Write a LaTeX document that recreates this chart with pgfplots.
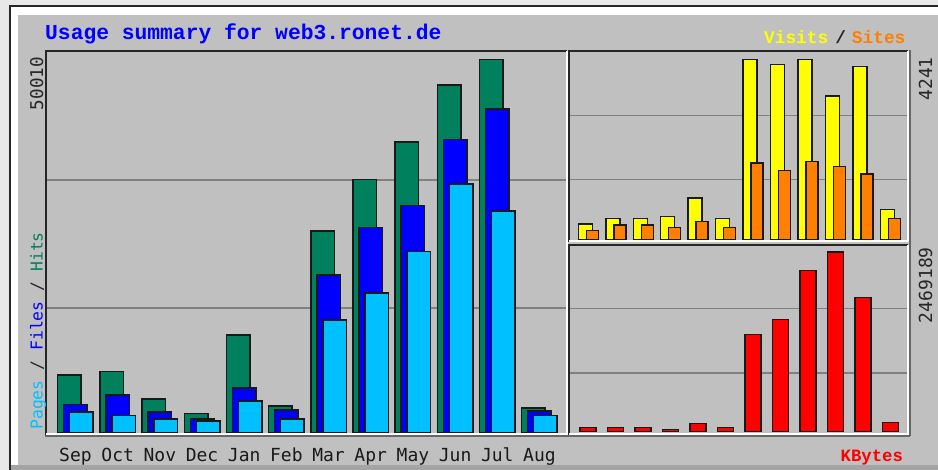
\documentclass[border=0pt]{standalone}
\usepackage{pgfplots}
\usepackage{pgfplotstable}
\pgfplotsset{compat=1.18}
\usepackage{fontspec}
\newfontfamily\lmono{Liberation Mono}
\newfontfamily\dmono{DejaVu Sans Mono}
\definecolor{outerbg}{HTML}{E8E8E8}
\definecolor{panel}{HTML}{C0C0C0}
\definecolor{bevel}{HTML}{A4A4A4}
\definecolor{gridc}{HTML}{808080}
\definecolor{hitsc}{HTML}{00805C}
\definecolor{filesc}{HTML}{0000FF}
\definecolor{pagesc}{HTML}{00C0FF}
\definecolor{visitsc}{HTML}{FFFF00}
\definecolor{sitesc}{HTML}{FF8000}
\definecolor{kbytesc}{HTML}{FF0000}

\pgfplotstableread{
idx hits files pages
0 7741 3777 2803
1 8182 5032 2309
2 4538 2803 1829
3 2576 1829 1562
4 13080 6006 4271
5 3564 3070 1829
6 27001 21128 15082
7 33901 27455 18686
8 38933 30431 24292
9 46581 39240 33327
10 50010 43378 29670
11 3297 2896 2309
}\mainT

\pgfplotstableread{
idx visits sites
0 369 212
1 494 336
2 494 336
3 541 282
4 972 424
5 494 282
6 4241 1795
7 4118 1624
8 4230 1835
9 3381 1718
10 4071 1537
11 706 494
}\visT

\pgfplotstableread{
idx kbytes
0 55000
1 55000
2 55000
3 30000
4 110000
5 55000
6 1338000
7 1539000
8 2218000
9 2469189
10 1841000
11 129000
}\kbT

\pgfplotsset{
  wstyle/.style={scale only axis, anchor=south west,
    axis line style={draw=none}, major tick length=0pt,
    ymajorgrids, major grid style={draw=gridc, line width=1.3pt},
    scaled ticks=false, yticklabel=\empty,
    ytick scale label code/.code={}, xtick scale label code/.code={}},
  wbar/.style={ybar, draw=black!90, line width=1.5pt},
}

\begin{document}
\begin{tikzpicture}[x=1pt,y=1pt]
\path[use as bounding box] (0,0) rectangle (938,470);
\fill[outerbg] (0,0) rectangle (938,470);
\fill[black!85] (9,0) rectangle (938,465);
\fill[white] (11,0) rectangle (938,463);
\fill[panel] (18,5) rectangle (938,455);
\fill[bevel] (11,0) rectangle (938,5);

% main panel
\begin{axis}[wstyle, at={(46pt,36pt)}, width=521pt, height=383pt,
  xmin=-0.5571, xmax=11.795, ymin=-174, ymax=51121,
  ytick={16701,33844},
  xtick={0,...,11},
  xticklabels={Sep,Oct,Nov,Dec,Jan,Feb,Mar,Apr,May,Jun,Jul,Aug},
  xticklabel style={anchor=base, inner sep=0pt, xshift=6pt, yshift=-27.5pt,
    font=\dmono\fontsize{18pt}{20pt}\selectfont, text=black!90},
]
\addplot[wbar, fill=hitsc, bar width=23.5pt, bar shift=0pt] table[x=idx,y=hits]{\mainT};
\addplot[wbar, fill=filesc, bar width=23.5pt, bar shift=6pt] table[x=idx,y=files]{\mainT};
\addplot[wbar, fill=pagesc, bar width=23.5pt, bar shift=12pt] table[x=idx,y=pages]{\mainT};
\end{axis}

% visits / sites panel
\begin{axis}[wstyle, at={(569pt,229pt)}, width=339pt, height=190pt,
  xmin=-0.593, xmax=11.743, ymin=-35, ymax=4436,
  ytick={1405,2918}, xtick=\empty]
\addplot[wbar, fill=visitsc, bar width=14pt, bar shift=0pt] table[x=idx,y=visits]{\visT};
\addplot[wbar, fill=sitesc, bar width=12pt, bar shift=7pt] table[x=idx,y=sites]{\visT};
\end{axis}

% kbytes panel
\begin{axis}[wstyle, at={(569pt,36pt)}, width=339pt, height=189pt,
  xmin=-0.691, xmax=11.645, ymin=-31600, ymax=2565500,
  ytick={806600,1690000}, xtick=\empty]
\addplot[wbar, fill=kbytesc, bar width=16pt, bar shift=0pt] table[x=idx,y=kbytes]{\kbT};
\end{axis}

% panel bevels
\draw[black!85, line width=2pt] (46,35) -- (46,419) -- (567,419);
\draw[white, line width=2pt] (46,36) -- (567,36) -- (567,419);
\draw[black!60, line width=1.2pt] (45,34) -- (568,34);
\draw[black!85, line width=2pt] (569,228) -- (569,419) -- (908,419);
\draw[white, line width=2pt] (569,228.5) -- (908,228.5) -- (908,419);
\draw[black!85, line width=2pt] (569,35) -- (569,225) -- (908,225);
\draw[white, line width=2pt] (569,36) -- (908,36) -- (908,225);
\draw[black!60, line width=1.2pt] (910,34) -- (910,420);
\draw[black!60, line width=1.2pt] (568,34) -- (910,34);

% texts
\node[anchor=base west, inner sep=0pt, text=filesc] at (45,430)
  {\lmono\bfseries\fontsize{21.3pt}{24pt}\selectfont Usage summary for web3.ronet.de};

\node[anchor=base west, inner sep=0pt] at (764,426)
  {\lmono\bfseries\fontsize{17.8pt}{20pt}\selectfont\textcolor{visitsc}{Visits}\hspace{7pt}\textcolor{black!85}{/}\hspace{6pt}\textcolor{sitesc}{Sites}};

\node[anchor=base west, inner sep=0pt, text=kbytesc] at (840.5,8.5)
  {\lmono\bfseries\fontsize{17.3pt}{20pt}\selectfont KBytes};

\node[rotate=90, anchor=base east, inner sep=0pt, text=black!85] at (43,413)
  {\dmono\fontsize{17.6pt}{20pt}\selectfont 50010};
\node[rotate=90, anchor=base east, inner sep=0pt] at (42.5,238)
  {\dmono\fontsize{16.4pt}{20pt}\selectfont\textcolor{pagesc}{Pages}\textcolor{black!85}{\ /\ }\textcolor{filesc}{Files}\textcolor{black!85}{\ /\ }\textcolor{hitsc}{Hits}};
\node[rotate=90, anchor=base east, inner sep=0pt, text=black!85] at (932,413)
  {\dmono\fontsize{18pt}{20pt}\selectfont 4241};
\node[rotate=90, anchor=base east, inner sep=0pt, text=black!85] at (932,223)
  {\dmono\fontsize{18pt}{20pt}\selectfont 2469189};
\end{tikzpicture}
\end{document}
